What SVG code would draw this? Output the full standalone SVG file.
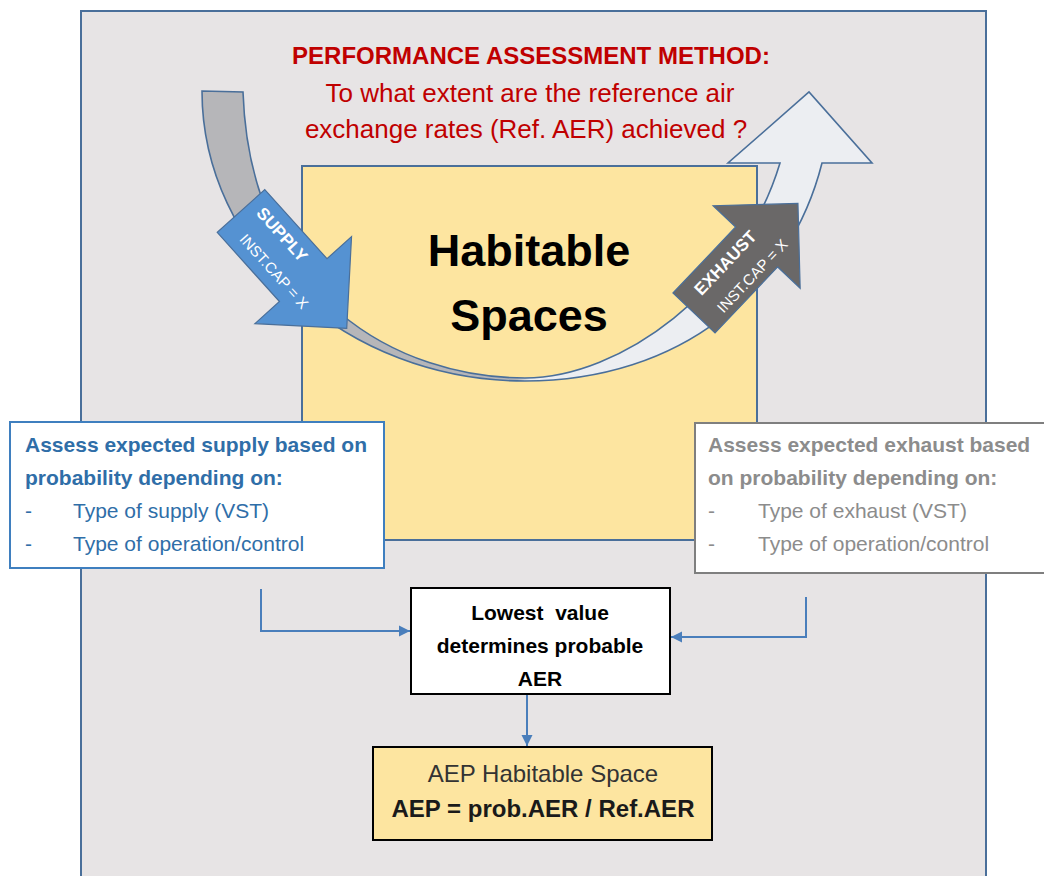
<svg xmlns="http://www.w3.org/2000/svg" width="1044" height="876" viewBox="0 0 1044 876">
  <style>
    .f { font-family: "Liberation Sans", Arial, sans-serif; }
    .b { font-weight: bold; }
    .title { fill: #c00000; text-anchor: middle; }
    .blue { fill: #2f6ea8; }
    .grey { fill: #8c8c8c; }
    .wt { fill: #ffffff; text-anchor: middle; }
    .conn { fill: none; stroke: #4a7ebb; stroke-width: 2; }
    .box { fill: #ffffff; }
  </style>
  <defs>
    <marker id="ah" viewBox="0 0 10 10" refX="10" refY="5" markerWidth="11" markerHeight="12" markerUnits="userSpaceOnUse" orient="auto">
      <path d="M0,0 L10,5 L0,10 z" fill="#4a7ebb"/>
    </marker>
    <linearGradient id="bandfill" gradientUnits="userSpaceOnUse" x1="202" y1="0" x2="872" y2="0">
      <stop offset="0" stop-color="#b6b6b9"/>
      <stop offset="0.47" stop-color="#b6b6b9"/>
      <stop offset="0.49" stop-color="#eceef2"/>
      <stop offset="1" stop-color="#eceef2"/>
    </linearGradient>
  </defs>

  <rect width="1044" height="876" fill="#ffffff"/>

  <g id="frame">
    <rect x="81" y="11" width="905" height="880" fill="#e7e4e5" stroke="#4a6f9a" stroke-width="2"/>
  </g>

  <g id="habitable-spaces">
    <rect x="302" y="166" width="455" height="374" fill="#fde5a0" stroke="#4a6f9a" stroke-width="2"/>
  </g>

  <g id="flow-arrow">
    <path d="M202,91 L243,92 C250,300 400,378 525,378 C620,378 742,290 780,163 L728,163 L809,92 L872,163 L822,163 C790,290 680,381 525,381 C346,381 202,250 202,91 Z" fill="url(#bandfill)" stroke="#4a6f9a" stroke-width="1.6" stroke-linejoin="miter"/>
  </g>

  <g id="habitable-label">
    <text class="f b" x="529" y="266" font-size="45" text-anchor="middle" fill="#000000">Habitable</text>
    <text class="f b" x="529" y="331" font-size="45" text-anchor="middle" fill="#000000">Spaces</text>
  </g>

  <g id="supply" transform="translate(241,211) rotate(48)">
    <polygon points="0,-32 93,-32 93,-65 158,0 93,65 93,32 0,32" fill="#5592d2" stroke="#4a6f9a" stroke-width="1.2"/>
    <text class="f b wt" x="45" y="-9" font-size="17">SUPPLY</text>
    <text class="f wt" x="67" y="21" font-size="15">INST.CAP = X</text>
  </g>

  <g id="exhaust" transform="translate(694,313) rotate(-46.5)">
    <polygon points="0,-29 91,-29 91,-60 151,0 91,60 91,29 0,29" fill="#6a6868" stroke="#4a6f9a" stroke-width="1.2"/>
    <text class="f b wt" x="58" y="-6" font-size="17">EXHAUST</text>
    <text class="f wt" x="67" y="22" font-size="15">INST.CAP = X</text>
  </g>

  <g id="title">
    <text class="f b title" x="531" y="64" font-size="24">PERFORMANCE ASSESSMENT METHOD:</text>
    <text class="f title" x="530" y="102" font-size="26">To what extent are the reference air</text>
    <text class="f title" x="526" y="138" font-size="26">exchange rates (Ref. AER) achieved ?</text>
  </g>

  <g id="supply-assessment">
    <rect class="box" x="10" y="422" width="374" height="146" stroke="#3f7fbf" stroke-width="2"/>
    <text class="f b blue" x="25" y="452" font-size="21">Assess expected supply based on</text>
    <text class="f b blue" x="25" y="485" font-size="21">probability depending on:</text>
    <text class="f blue" x="25" y="518" font-size="21">-</text>
    <text class="f blue" x="73" y="518" font-size="21">Type of supply (VST)</text>
    <text class="f blue" x="25" y="551" font-size="21">-</text>
    <text class="f blue" x="73" y="551" font-size="21">Type of operation/control</text>
  </g>

  <g id="exhaust-assessment">
    <rect class="box" x="695" y="423" width="360" height="150" stroke="#7f7f7f" stroke-width="2"/>
    <text class="f b grey" x="708" y="452" font-size="21">Assess expected exhaust based</text>
    <text class="f b grey" x="708" y="485" font-size="21">on probability depending on:</text>
    <text class="f grey" x="708" y="518" font-size="21">-</text>
    <text class="f grey" x="758" y="518" font-size="21">Type of exhaust (VST)</text>
    <text class="f grey" x="708" y="551" font-size="21">-</text>
    <text class="f grey" x="758" y="551" font-size="21">Type of operation/control</text>
  </g>

  <g id="connectors">
    <path class="conn" d="M261,589 V631 H410" marker-end="url(#ah)"/>
    <path class="conn" d="M806,597 V637 H671" marker-end="url(#ah)"/>
    <path class="conn" d="M527,695 V746" marker-end="url(#ah)"/>
  </g>

  <g id="lowest-value">
    <rect class="box" x="411" y="588" width="259" height="106" stroke="#000000" stroke-width="2"/>
    <text class="f b" x="540" y="620" font-size="21" text-anchor="middle" fill="#000000" xml:space="preserve">Lowest  value</text>
    <text class="f b" x="540" y="653" font-size="21" text-anchor="middle" fill="#000000">determines probable</text>
    <text class="f b" x="540" y="686" font-size="21" text-anchor="middle" fill="#000000">AER</text>
  </g>

  <g id="aep">
    <rect x="373" y="747" width="339" height="93" fill="#fde5a0" stroke="#000000" stroke-width="2"/>
    <text class="f" x="543" y="782" font-size="24" text-anchor="middle" fill="#333333">AEP Habitable Space</text>
    <text class="f b" x="543" y="817" font-size="24" text-anchor="middle" fill="#1a1a1a">AEP = prob.AER / Ref.AER</text>
  </g>
</svg>
